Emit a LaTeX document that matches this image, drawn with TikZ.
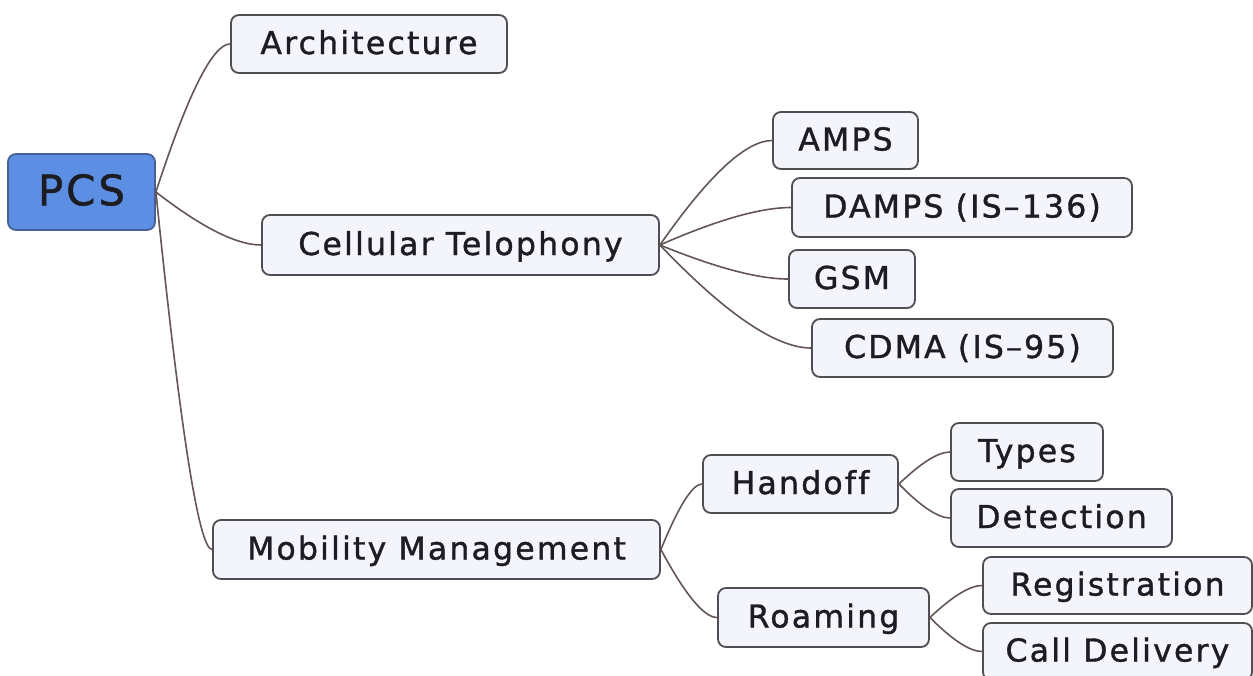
\documentclass[tikz,border=0pt]{standalone}
\usepackage{fontspec}
\newfontfamily\mmfont[LetterSpace=7,FakeBold=1.2,Ligatures=NoCommon]{DejaVu Sans}
\usetikzlibrary{calc}
\definecolor{edgecol}{RGB}{100,86,88}
\definecolor{boxborder}{RGB}{80,78,84}
\definecolor{boxfill}{RGB}{244,245,250}
\definecolor{pcsfill}{RGB}{92,142,228}
\definecolor{pcsborder}{RGB}{72,96,150}
\definecolor{textcol}{RGB}{28,28,34}
\begin{document}
\begin{tikzpicture}[x=1pt,y=-1pt,
  box/.style={draw=boxborder, line width=1.8pt, fill=boxfill, rounded corners=8pt,
    inner sep=0pt, text=textcol, font=\mmfont\fontsize{31.5}{36}\selectfont,
    text height=23pt, text depth=3pt},
  rootbox/.style={box, fill=pcsfill, draw=pcsborder, font=\mmfont\fontsize{42}{48}\selectfont,
    text height=30.5pt, text depth=4pt},
  branch/.style={draw=edgecol, line width=1.6pt,
    to path={let \p1=(\tikztostart), \p2=(\tikztotarget) in
      .. controls ({\x1+0.4333*(\x2-\x1)},{\y1+0.6667*(\y2-\y1)}) and ({\x2-0.2333*(\x2-\x1)},\y2) .. (\tikztotarget)}}]
\useasboundingbox (0,0) rectangle (1253,675);
\clip (0,0) rectangle (1253,675);
\fill[white] (0,0) rectangle (1253,675);

\node[rootbox, minimum width=147pt, minimum height=76pt] (pcs) at (81.5,192) {PCS};
\node[box, minimum width=276pt, minimum height=58pt] (arch) at (369,44) {Architecture};
\node[box, minimum width=397pt, minimum height=60pt] (cell) at (460.5,245) {Cellular Telophony};
\node[box, minimum width=447pt, minimum height=59pt] (mob) at (436.5,549.5) {Mobility Management};
\node[box, minimum width=145pt, minimum height=57pt] (amps) at (845.5,140.5) {AMPS};
\node[box, minimum width=340pt, minimum height=59pt] (damps) at (962,207.5) {DAMPS (IS–136)};
\node[box, minimum width=126pt, minimum height=58pt] (gsm) at (852,279) {GSM};
\node[box, minimum width=301pt, minimum height=58pt] (cdma) at (962.5,348) {CDMA (IS–95)};
\node[box, minimum width=195pt, minimum height=58pt] (hand) at (800.5,484) {Handoff};
\node[box, minimum width=211pt, minimum height=59pt] (roam) at (823.5,617.5) {Roaming};
\node[box, minimum width=152pt, minimum height=58pt] (types) at (1027,452) {Types};
\node[box, minimum width=221pt, minimum height=58pt] (det) at (1061.5,518) {Detection};
\node[box, minimum width=269pt, minimum height=57pt] (reg) at (1117.5,585.5) {Registration};
\node[box, minimum width=269pt, minimum height=57pt] (call) at (1117.5,651.5) {Call Delivery};

\draw[branch] (pcs.east) to (arch.west);
\draw[branch] (pcs.east) to (cell.west);
\draw[branch] (pcs.east) to (mob.west);
\draw[branch] (cell.east) to (amps.west);
\draw[branch] (cell.east) to (damps.west);
\draw[branch] (cell.east) to (gsm.west);
\draw[branch] (cell.east) to (cdma.west);
\draw[branch] (mob.east) to (hand.west);
\draw[branch] (mob.east) to (roam.west);
\draw[branch] (hand.east) to (types.west);
\draw[branch] (hand.east) to (det.west);
\draw[branch] (roam.east) to (reg.west);
\draw[branch] (roam.east) to (call.west);
\end{tikzpicture}
\end{document}
